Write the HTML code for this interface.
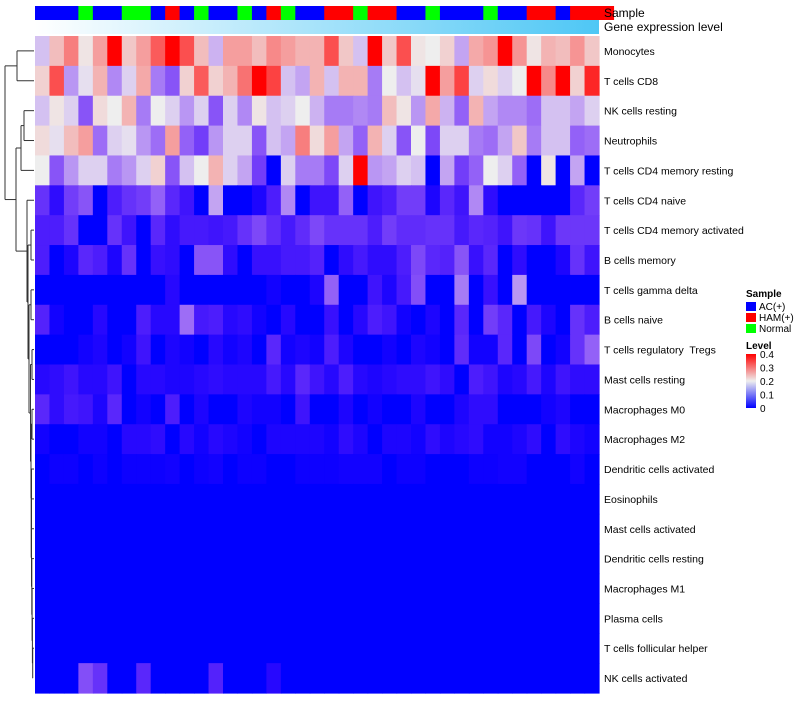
<!DOCTYPE html>
<html><head><meta charset="utf-8"><style>
body{margin:0;background:#fff;width:800px;height:700px;overflow:hidden;font-family:"Liberation Sans",sans-serif}
svg text{font-family:"Liberation Sans",sans-serif;white-space:pre}
</style></head><body>
<svg id="chart" width="800" height="700" xmlns="http://www.w3.org/2000/svg">
<defs>
<linearGradient id="geneGrad" x1="0" x2="1" y1="0" y2="0"><stop offset="0" stop-color="#ffffff"/><stop offset="1" stop-color="#4ec7f5"/></linearGradient>
<linearGradient id="levelGrad" x1="0" x2="0" y1="0" y2="1"><stop offset="0" stop-color="#ff0000"/><stop offset="0.5" stop-color="#eeeeee"/><stop offset="1" stop-color="#0000ff"/></linearGradient>
</defs>
<g id="dendro" stroke="#333" stroke-width="1" fill="none"></g>
<g id="cells"></g>
<g id="anno"></g>
<rect x="35" y="20" width="564" height="14" fill="url(#geneGrad)"/>
<text x="604" y="17" font-size="12">Sample</text>
<text x="604" y="31" font-size="12">Gene expression level</text>
<g id="rowlabels" font-size="10.5"></g>
<g>
<text x="746" y="297" font-size="10" font-weight="bold">Sample</text>
<rect x="746" y="302" width="10" height="9" fill="#0000ff"/>
<text x="759" y="310" font-size="10">AC(+)</text>
<rect x="746" y="313" width="10" height="9" fill="#ff0000"/>
<text x="759" y="321" font-size="10">HAM(+)</text>
<rect x="746" y="324" width="10" height="9" fill="#00ff00"/>
<text x="759" y="332" font-size="10">Normal</text>
<text x="746" y="349" font-size="10" font-weight="bold">Level</text>
<rect x="746" y="354" width="10" height="54" fill="url(#levelGrad)"/>
<g id="levelticks" font-size="10"></g>
</g>
</svg>
<script>
const rowNames=["Monocytes","T cells CD8","NK cells resting","Neutrophils","T cells CD4 memory resting","T cells CD4 naive","T cells CD4 memory activated","B cells memory","T cells gamma delta","B cells naive","T cells regulatory  Tregs","Mast cells resting","Macrophages M0","Macrophages M2","Dendritic cells activated","Eosinophils","Mast cells activated","Dendritic cells resting","Macrophages M1","Plasma cells","T cells follicular helper","NK cells activated"];
const sampleGroups="AAAN AANNAHANAANAHNAAH HNHHAANAAANAAHHAHHH".replace(/ /g,"").split("");
const levelTicks=[0,0.1,0.2,0.3,0.4];
const r0=[.17,.25,.31,.21,.28,.4,.24,.28,.34,.4,.35,.25,.16,.28,.28,.25,.3,.28,.26,.26,.35,.24,.17,.4,.24,.35,.21,.2,.23,.15,.27,.29,.4,.29,.21,.26,.25,.29,.24];
const r1=[.23,.35,.14,.19,.26,.13,.18,.27,.12,.09,.23,.34,.23,.26,.32,.4,.36,.17,.15,.26,.17,.26,.26,.12,.2,.17,.19,.4,.28,.36,.18,.22,.18,.2,.4,.3,.4,.23,.38];
const r2=[.17,.21,.18,.09,.22,.2,.26,.12,.2,.18,.14,.18,.09,.18,.13,.21,.17,.18,.2,.16,.12,.12,.13,.12,.25,.21,.14,.27,.16,.1,.26,.15,.13,.13,.11,.17,.17,.15,.18];
const r3=[.22,.19,.25,.28,.11,.18,.19,.14,.11,.28,.1,.07,.14,.18,.18,.09,.17,.15,.31,.22,.28,.15,.1,.26,.18,.09,.2,.08,.18,.18,.12,.11,.15,.24,.12,.17,.17,.1,.11];
const r4=[.2,.09,.14,.18,.18,.12,.14,.18,.23,.09,.17,.2,.26,.18,.15,.07,0,.18,.12,.12,.08,.18,.4,.14,.15,.18,.17,0,.15,.07,.1,.2,.18,.1,0,.21,0,.15,0];
const r5=[.06,.02,.07,.09,0,.04,.06,.07,.1,.05,.03,0,.15,0,0,.01,.04,.13,0,.03,.03,.1,0,.03,.04,.07,.07,.01,.05,.03,.13,.02,0,0,0,0,0,.05,.07];
const r6=[.04,.04,.06,0,0,.06,.03,0,.05,.02,.035,.035,.03,.035,.06,.08,.055,.035,.055,.08,.06,.06,.06,.04,.07,.055,.055,.06,.06,.035,.05,.045,.03,.065,.06,.03,.065,.065,.065];
const r7=[.04,0,.01,.05,.04,.01,.06,0,.025,.02,0,.09,.09,.02,0,.025,.025,.035,.035,.045,0,.02,.035,.02,.02,.04,.08,.05,.045,.09,.025,.05,0,.02,0,0,.01,.06,.03];
const r8=[0,0,0,0,0,0,0,0,0,.015,0,0,0,0,0,0,.005,0,0,.01,.1,0,0,.03,.01,.035,.085,0,0,.12,0,.025,0,.14,0,0,0,0,0];
const r9=[.045,.005,0,0,.015,0,0,.04,.015,.015,.11,.035,.04,.015,.02,.005,0,.015,0,0,.025,0,.015,.04,.03,.005,0,.01,0,.05,0,.07,.05,0,.035,.01,0,.06,.04];
const r10=[0,0,0,.005,.01,0,.005,.03,0,.01,.005,0,.015,.005,.01,0,.05,.005,.01,.005,.04,.01,0,0,.005,0,.01,.005,0,.055,.005,.005,.05,0,.08,0,.005,.06,.1];
const r11=[.015,.02,.03,.015,.015,.03,0,.015,.015,.01,.01,.015,.02,.015,.015,.015,.035,.015,.05,.03,.015,.04,.015,.01,.015,.02,.02,.03,.02,0,.04,.03,.01,.015,.035,.01,.03,.02,.02];
const r12=[.05,.02,.035,.03,.01,.05,0,.005,0,.04,0,.01,0,0,.01,.005,.005,0,.03,0,0,.01,0,.005,0,0,.01,0,0,.01,.02,.02,0,0,0,.005,.01,0,0];
const r13=[.005,0,0,.005,.005,0,.015,.015,.02,0,.015,.005,.015,.01,.005,0,.01,.01,.01,.01,.005,.02,.01,0,.01,.01,.005,.02,.01,.015,.02,.005,.005,.01,.02,0,.02,.01,.005];
const r14=[0,.003,.003,0,.003,0,.003,.003,.003,.005,0,.003,.005,0,.003,.003,0,0,.003,.003,.003,.005,.005,.005,0,.003,.003,0,0,0,.003,.003,.005,.005,0,0,0,.005,0];
const r15=new Array(39).fill(0);
const r16=new Array(39).fill(0);
const r17=new Array(39).fill(0);
const r18=new Array(39).fill(0);
const r19=new Array(39).fill(0);
const r20=new Array(39).fill(0);
const r21=[0,0,0,.085,.06,0,0,.05,0,0,0,0,.045,0,0,0,.015,0,0,0,0,0,0,0,0,0,0,0,0,0,0,0,0,0,0,0,0,0,0];
const values=[r0,r1,r2,r3,r4,r5,r6,r7,r8,r9,r10,r11,r12,r13,r14,r15,r16,r17,r18,r19,r20,r21];

const NS="http://www.w3.org/2000/svg";
const X0=35,X1=599,Y0=36,Y1=693;
const nCol=values[0].length,nRow=values.length;
const cw=(X1-X0)/nCol,rh=(Y1-Y0)/nRow;
const xPos=i=>X0+i*cw;
const yPos=j=>Y0+j*rh;
function color(v){
  v=Math.max(0,Math.min(0.4,v));
  let r,g,b;
  if(v<0.2){const t=v/0.2;r=238*Math.pow(t,0.7);g=238*Math.pow(t,1.3);b=255-17*t;}
  else{const t=(v-0.2)/0.2;r=238+17*t;g=238*Math.pow(1-t,0.8);b=g;}
  return `rgb(${Math.round(r)},${Math.round(g)},${Math.round(b)})`;
}
const cells=document.getElementById('cells');
values.forEach((row,j)=>row.forEach((v,i)=>{
  const r=document.createElementNS(NS,'rect');
  r.setAttribute('x',xPos(i));r.setAttribute('y',yPos(j));
  r.setAttribute('width',cw+0.6);r.setAttribute('height',rh+0.6);
  r.setAttribute('fill',color(v));
  
  
  cells.appendChild(r);
}));
const gcol={A:'#0000ff',H:'#ff0000',N:'#00ff00'};
const anno=document.getElementById('anno');
sampleGroups.forEach((g,i)=>{
  const r=document.createElementNS(NS,'rect');
  r.setAttribute('x',xPos(i));r.setAttribute('y',6);
  r.setAttribute('width',cw+0.6);r.setAttribute('height',14);
  r.setAttribute('fill',gcol[g]);
  
  
  anno.appendChild(r);
});
const rl=document.getElementById('rowlabels');
rowNames.forEach((n,j)=>{
  const t=document.createElementNS(NS,'text');
  t.setAttribute('x',604);t.setAttribute('y',yPos(j)+rh/2+4);
  t.textContent=n;
  
  
  rl.appendChild(t);
});
const lt=document.getElementById('levelticks');
levelTicks.forEach(v=>{
  const y=408-(v/0.4)*54;
  const t=document.createElementNS(NS,'text');
  t.setAttribute('x',760);t.setAttribute('y',y+4);
  t.textContent=v===0?'0':v.toString();
  
  
  lt.appendChild(t);
});
const d=document.getElementById('dendro');
const yc=j=>yPos(j)+rh/2;
function seg(x1,y1,x2,y2){const l=document.createElementNS(NS,'line');l.setAttribute('x1',x1);l.setAttribute('y1',y1);l.setAttribute('x2',x2);l.setAttribute('y2',y2);d.appendChild(l);}
function join(xa,ya,xb,yb,xm){seg(xa,ya,xm,ya);seg(xb,yb,xm,yb);seg(xm,ya,xm,yb);return (ya+yb)/2;}
const E=34;
let a=join(E,yc(0),E,yc(1),17);
let b=join(E,yc(2),E,yc(3),24);
let c=join(24,b,E,yc(4),21);
let y=yc(21),x=33;
for(let j=20;j>=15;j--){y=join(E,yc(j),x,y,x-0.3);x-=0.3;}
let m=join(E,yc(14),x,y,31.5);
let p=join(E,yc(12),E,yc(13),32);
m=join(32,p,31.5,m,31);
let q=join(E,yc(10),E,yc(11),32);
m=join(32,q,31,m,30.5);
let s=join(E,yc(8),E,yc(9),31);
m=join(31,s,30.5,m,29);
let u=join(E,yc(6),E,yc(7),31);
m=join(31,u,29,m,28);
m=join(E,yc(5),28,m,27);
let up=join(21,c,27,m,16);
join(17,a,16,up,5);
</script>
</body></html>
